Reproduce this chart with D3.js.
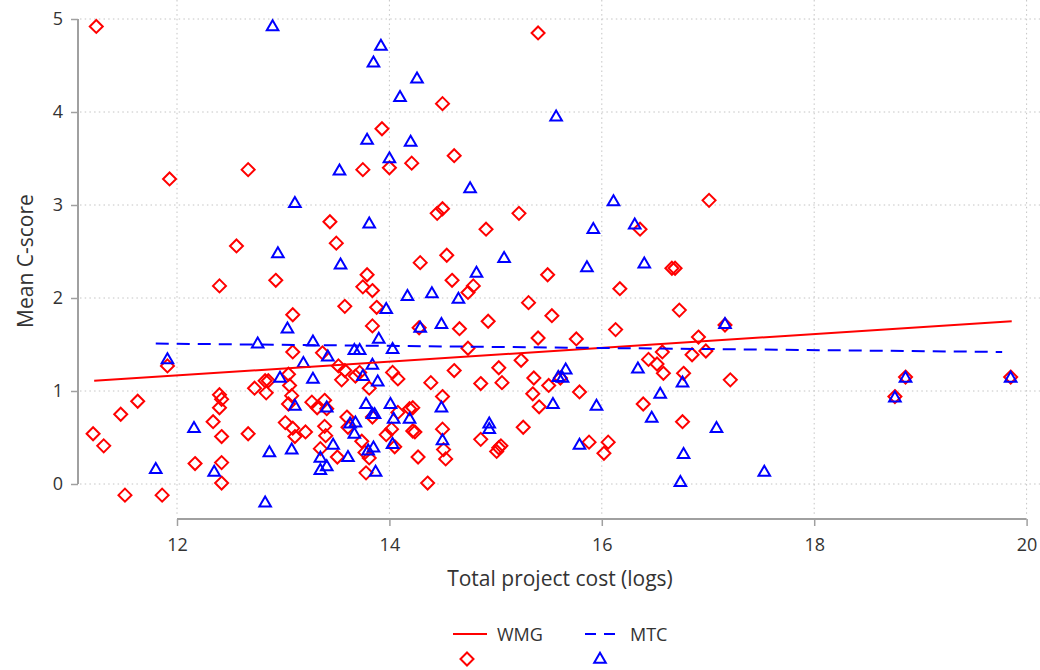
<!DOCTYPE html>
<html>
<head>
<meta charset="utf-8">
<script src="https://cdn.jsdelivr.net/npm/d3@7"></script>
<style>
  html, body { margin: 0; padding: 0; background: #fff; }
  svg { display: block; font-family: "Open Sans", "Noto Sans", sans-serif; }
</style>
</head>
<body>
<svg id="chart" width="1040" height="670"></svg>
<script>
// ---- Data ----
const xTicks = [12, 14, 16, 18, 20];
const yTicks = [0, 1, 2, 3, 4, 5];
const seriesNames = ["WMG", "MTC"];
const xTitle = "Total project cost (logs)";
const yTitle = "Mean C-score";

// WMG scatter (log cost, mean C-score)
const wmgX = [11.24,11.21,11.31,11.47,11.63,11.51,11.86,11.91,11.93,12.17,12.34,12.40,12.40,12.42,12.40,12.42,12.42,12.42,12.67,12.67,
  12.56,12.73,12.83,12.86,12.84,12.93,13.05,13.06,13.08,13.05,13.09,13.09,13.02,13.09,13.11,13.21,13.27,13.32,13.39,13.41,
  13.39,13.40,13.35,13.51,13.37,13.52,13.58,13.55,13.44,13.50,13.58,13.60,13.61,13.75,14.00,14.21,14.61,13.93,14.50,15.40,
  14.45,14.50,15.22,14.91,14.54,14.29,13.79,13.75,13.84,14.59,14.74,14.79,13.88,14.93,13.84,14.28,14.66,14.74,13.68,13.72,
  13.81,14.03,14.08,14.39,14.61,14.86,15.03,15.06,15.24,14.50,13.84,14.08,14.19,14.22,14.24,14.22,13.97,14.02,14.50,14.86,
  13.74,14.05,13.77,13.81,14.27,14.51,14.53,15.01,15.03,15.05,13.78,14.36,17.01,16.36,16.66,16.69,15.49,16.17,15.31,15.53,
  16.73,17.16,16.13,15.40,15.76,16.91,16.44,16.57,16.85,16.98,16.52,16.58,16.77,15.61,15.36,15.50,17.21,15.35,15.79,15.41,
  16.39,16.76,15.26,15.88,16.06,16.02,18.86,18.76,19.85];
const wmgY = [4.92,0.54,0.41,0.75,0.89,-0.12,-0.12,1.27,3.28,0.22,0.67,2.13,0.96,0.91,0.82,0.51,0.23,0.01,0.54,3.38,
  2.56,1.03,1.11,1.11,0.98,2.19,1.18,1.06,0.95,0.86,1.82,1.42,0.66,0.60,0.51,0.56,0.88,0.82,0.90,0.81,
  0.62,0.52,0.38,0.29,1.41,1.27,1.22,1.12,2.82,2.59,1.91,0.72,0.61,3.38,3.40,3.45,3.53,3.82,4.09,4.85,
  2.91,2.96,2.91,2.74,2.46,2.38,2.25,2.12,2.08,2.19,2.06,2.13,1.90,1.75,1.70,1.68,1.67,1.46,1.16,1.20,
  1.03,1.20,1.13,1.09,1.22,1.08,1.25,1.09,1.33,0.94,0.72,0.77,0.81,0.82,0.56,0.57,0.53,0.59,0.59,0.48,
  0.46,0.40,0.34,0.28,0.29,0.37,0.27,0.35,0.39,0.41,0.12,0.01,3.05,2.74,2.32,2.32,2.25,2.10,1.95,1.81,
  1.87,1.71,1.66,1.57,1.56,1.58,1.34,1.42,1.39,1.43,1.29,1.19,1.19,1.14,1.14,1.06,1.12,0.97,0.99,0.83,
  0.86,0.67,0.61,0.45,0.45,0.33,1.15,0.94,1.15];

// MTC scatter (log cost, mean C-score)
const mtcX = [12.90,13.92,13.85,14.26,14.10,15.57,13.79,14.20,14.00,13.53,13.11,14.76,13.81,16.11,15.92,16.31,12.95,13.54,15.08,14.82,
  15.86,16.40,14.17,14.40,14.65,13.97,14.29,14.49,17.16,13.04,13.90,12.76,13.28,13.67,13.72,14.03,11.91,13.42,13.19,13.84,
  13.75,12.97,13.28,13.89,15.59,15.63,15.66,16.34,16.76,16.55,13.11,13.41,13.78,14.01,14.49,15.54,15.95,16.47,17.08,13.63,
  13.68,13.84,13.86,14.04,14.19,14.94,14.94,12.16,13.67,14.50,14.03,13.80,13.85,12.87,13.08,13.47,13.35,13.41,13.35,13.61,
  12.35,11.80,13.87,15.79,16.77,17.53,16.74,12.83,18.86,18.76,19.85];
const mtcY = [4.93,4.72,4.54,4.37,4.17,3.96,3.71,3.69,3.51,3.38,3.03,3.19,2.81,3.05,2.75,2.80,2.49,2.37,2.44,2.28,
  2.34,2.38,2.03,2.06,2.00,1.89,1.69,1.73,1.73,1.68,1.57,1.52,1.54,1.45,1.45,1.46,1.35,1.38,1.31,1.29,
  1.17,1.15,1.14,1.11,1.16,1.15,1.24,1.25,1.10,0.98,0.85,0.83,0.87,0.87,0.83,0.87,0.85,0.72,0.61,0.66,
  0.67,0.76,0.76,0.71,0.71,0.66,0.60,0.61,0.55,0.48,0.44,0.37,0.40,0.35,0.38,0.43,0.29,0.20,0.16,0.30,
  0.14,0.17,0.14,0.43,0.33,0.14,0.03,-0.19,1.15,0.94,1.15];

// Fitted lines (start/end)
const wmgFitX = [11.22, 19.86];
const wmgFitY = [1.11, 1.75];
const mtcFitX = [11.80, 19.77];
const mtcFitY = [1.51, 1.42];

// ---- Drawing ----
const svg = d3.select("#chart");
const x = d3.scaleLinear().domain([12, 20]).range([177, 1026.6]);
const y = d3.scaleLinear().domain([0, 5]).range([484, 19]);

const RED = "#ff0000", BLUE = "#0000ff", GRID = "#c4c4c4", AXIS = "#a0a0a0", TXT = "#333333";

// gridlines
svg.append("g").selectAll("line").data(yTicks).join("line")
  .attr("x1", 80).attr("x2", 1040)
  .attr("y1", d => y(d)).attr("y2", d => y(d))
  .attr("stroke", GRID).attr("stroke-width", 1).attr("stroke-dasharray", "1.5,3.2");
svg.append("g").selectAll("line").data(xTicks).join("line")
  .attr("x1", d => x(d)).attr("x2", d => x(d))
  .attr("y1", 0).attr("y2", 514)
  .attr("stroke", GRID).attr("stroke-width", 1).attr("stroke-dasharray", "1.5,3.2");

// axes
const xAxis = d3.axisBottom(x).tickValues(xTicks).tickSize(7).tickPadding(12).tickFormat(d3.format("d"));
const gx = svg.append("g").attr("transform", "translate(0,519)").call(xAxis);
gx.select(".domain").attr("stroke", AXIS).attr("stroke-width", 2).attr("d", `M${x(12)},0H${x(20)}`);
gx.selectAll(".tick line").attr("stroke", AXIS).attr("stroke-width", 1.5);
gx.selectAll(".tick text").attr("fill", TXT).style("font-size", "18px").style("font-family", "'Open Sans',sans-serif");

const yAxis = d3.axisLeft(y).tickValues(yTicks).tickSize(7).tickPadding(8).tickFormat(d3.format("d"));
const gy = svg.append("g").attr("transform", "translate(78,0)").call(yAxis);
gy.select(".domain").attr("stroke", AXIS).attr("stroke-width", 2).attr("d", `M0,${y(5)}V${y(0)}`);
gy.selectAll(".tick line").attr("stroke", AXIS).attr("stroke-width", 1.5);
gy.selectAll(".tick text").attr("fill", TXT).style("font-size", "18px").style("font-family", "'Open Sans',sans-serif");

// titles
svg.append("text").attr("x", 560).attr("y", 586).attr("text-anchor", "middle")
  .attr("fill", TXT).style("font-size", "21px").text(xTitle);
svg.append("text").attr("transform", "translate(33,261) rotate(-90)").attr("text-anchor", "middle")
  .attr("fill", TXT).style("font-size", "21px").text(yTitle);

// markers
const diamond = "M0,-6.5L6.5,0L0,6.5L-6.5,0Z";
const triangle = "M0,-5.2L5.8,4.8L-5.8,4.8Z";

const wmgPts = wmgX.map((v, i) => [v, wmgY[i]]);
const mtcPts = mtcX.map((v, i) => [v, mtcY[i]]);

svg.append("g").selectAll("path").data(wmgPts).join("path")
  .attr("d", diamond)
  .attr("transform", d => `translate(${x(d[0])},${y(d[1])})`)
  .attr("fill", "none").attr("stroke", RED).attr("stroke-width", 2);

svg.append("g").selectAll("path").data(mtcPts).join("path")
  .attr("d", triangle)
  .attr("transform", d => `translate(${x(d[0])},${y(d[1])})`)
  .attr("fill", "none").attr("stroke", BLUE).attr("stroke-width", 2);

// fit lines
const line = d3.line().x(d => x(d[0])).y(d => y(d[1]));
svg.append("path").datum(wmgFitX.map((v, i) => [v, wmgFitY[i]]))
  .attr("d", line).attr("fill", "none").attr("stroke", RED).attr("stroke-width", 2);
svg.append("path").datum(mtcFitX.map((v, i) => [v, mtcFitY[i]]))
  .attr("d", line).attr("fill", "none").attr("stroke", BLUE).attr("stroke-width", 2)
  .attr("stroke-dasharray", "13,8");

// legend
const lg = svg.append("g");
lg.append("line").attr("x1", 453).attr("x2", 487).attr("y1", 634).attr("y2", 634)
  .attr("stroke", RED).attr("stroke-width", 2);
lg.append("text").attr("x", 497).attr("y", 641).attr("fill", TXT).style("font-size", "18px").text(seriesNames[0]);
lg.append("line").attr("x1", 585).attr("x2", 619).attr("y1", 634).attr("y2", 634)
  .attr("stroke", BLUE).attr("stroke-width", 2).attr("stroke-dasharray", "11,8");
lg.append("text").attr("x", 630).attr("y", 641).attr("fill", TXT).style("font-size", "18px").text(seriesNames[1]);
lg.append("path").attr("d", diamond).attr("transform", "translate(467,659)")
  .attr("fill", "none").attr("stroke", RED).attr("stroke-width", 2);
lg.append("path").attr("d", triangle).attr("transform", "translate(600,658)")
  .attr("fill", "none").attr("stroke", BLUE).attr("stroke-width", 2);
</script>
</body>
</html>
